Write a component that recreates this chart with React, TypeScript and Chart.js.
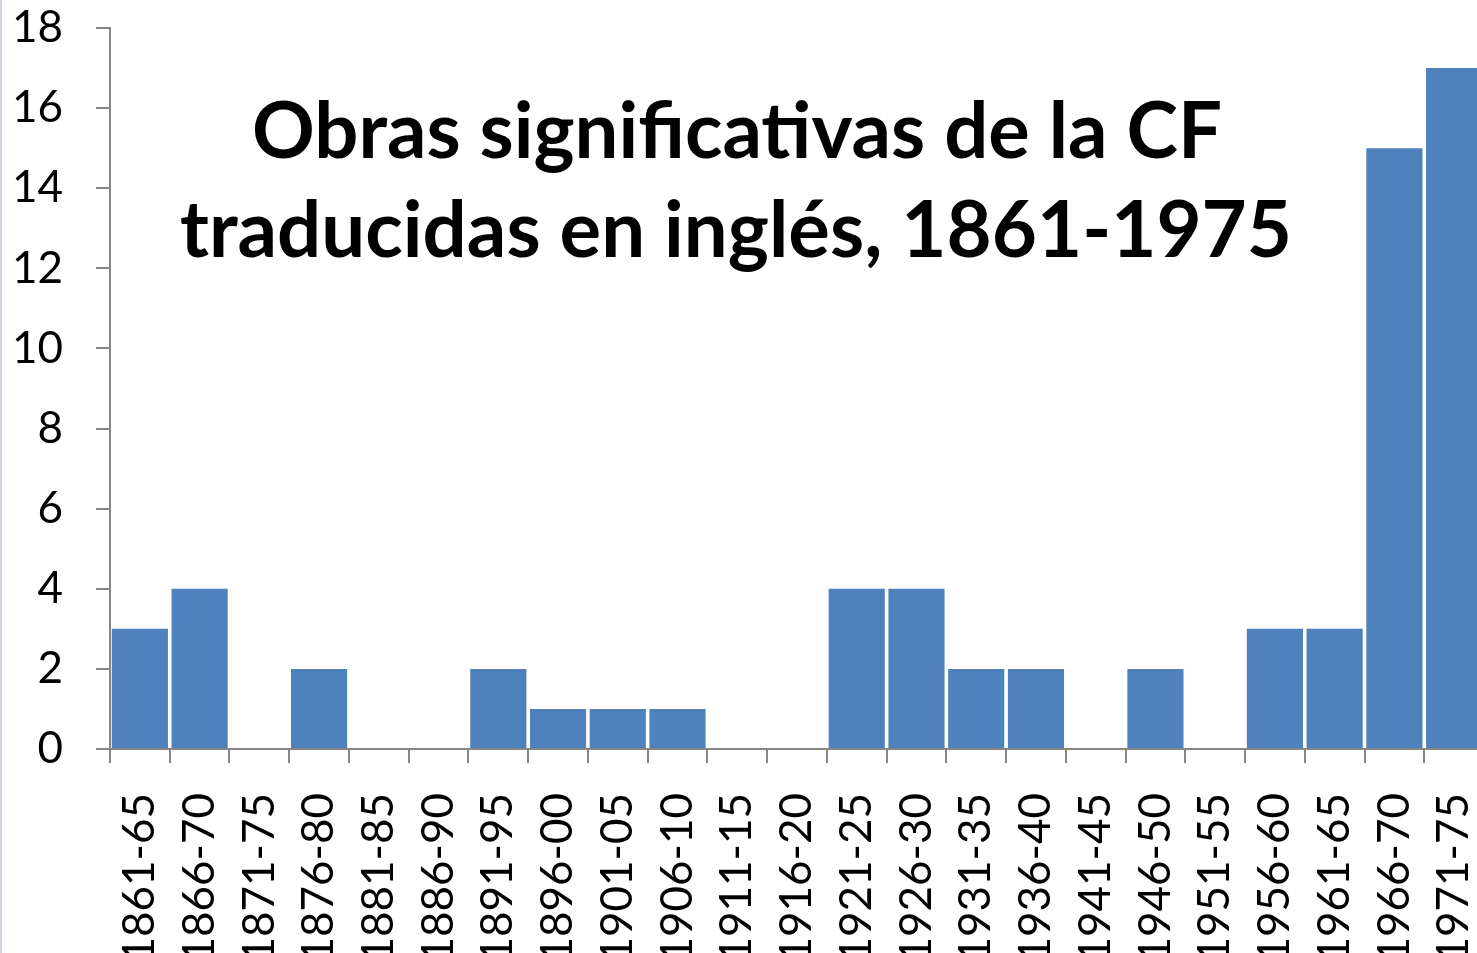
import React, { useEffect, useRef } from "react";
import { Chart, registerables } from "chart.js";

Chart.register(...registerables);

const categories = [
  "1861-65", "1866-70", "1871-75", "1876-80", "1881-85", "1886-90",
  "1891-95", "1896-00", "1901-05", "1906-10", "1911-15", "1916-20",
  "1921-25", "1926-30", "1931-35", "1936-40", "1941-45", "1946-50",
  "1951-55", "1956-60", "1961-65", "1966-70", "1971-75",
];
const obras = [3, 4, 0, 2, 0, 0, 2, 1, 1, 1, 0, 0, 4, 4, 2, 2, 0, 2, 0, 3, 3, 15, 17];
const titleLines = ["Obras significativas de la CF", "traducidas en inglés, 1861-1975"];
const yMin = 0;
const yMax = 18;
const yStep = 2;

const FONT = "Lato, 'Open Sans', sans-serif";
const AXIS = "#868686";

const titlePlugin = {
  id: "insideTitle",
  afterDraw(chart: any) {
    const ctx = chart.ctx;
    ctx.save();
    ctx.fillStyle = "#000";
    ctx.textAlign = "center";
    ctx.textBaseline = "alphabetic";
    ctx.font = `bold 78px ${FONT}`;
    ctx.fillText(titleLines[0], 737, 158, 970);
    ctx.fillText(titleLines[1], 736, 257, 1112);
    ctx.restore();
  },
};

export default function App() {
  const ref = useRef<HTMLCanvasElement>(null);
  useEffect(() => {
    if (!ref.current) return;
    const chart = new Chart(ref.current, {
      type: "bar",
      data: {
        labels: categories,
        datasets: [
          {
            data: obras,
            backgroundColor: "#4F81BD",
            borderWidth: 0,
            barPercentage: 0.94,
            categoryPercentage: 1,
          },
        ],
      },
      options: {
        responsive: false,
        animation: false,
        layout: { padding: { top: 28, left: 0, right: 0, bottom: 0 } },
        plugins: {
          legend: { display: false },
          tooltip: { enabled: false },
          title: { display: false },
        },
        scales: {
          x: {
            offset: true,
            grid: {
              offset: true,
              drawOnChartArea: false,
              drawTicks: true,
              tickLength: 14,
              color: AXIS,
              lineWidth: 2,
            },
            border: { color: AXIS, width: 2 },
            ticks: {
              autoSkip: false,
              minRotation: 90,
              maxRotation: 90,
              padding: 30,
              color: "#000",
              font: { family: FONT, size: 44 },
            },
            afterFit(scale: any) {
              scale.height = 953 - 749;
              scale.paddingLeft = 0;
              scale.paddingRight = 0;
              scale.paddingTop = 0;
              scale.paddingBottom = 0;
            },
          },
          y: {
            min: yMin,
            max: yMax,
            grid: {
              drawOnChartArea: false,
              drawTicks: true,
              tickLength: 14,
              color: AXIS,
              lineWidth: 2,
            },
            border: { color: AXIS, width: 2 },
            ticks: {
              stepSize: yStep,
              padding: 33,
              color: "#000",
              font: { family: FONT, size: 44 },
            },
            afterFit(scale: any) {
              scale.width = 110;
              scale.paddingLeft = 0;
              scale.paddingRight = 0;
              scale.paddingTop = 0;
              scale.paddingBottom = 0;
            },
          },
        },
      },
      plugins: [titlePlugin],
    });
    return () => chart.destroy();
  }, []);
  return (
    <div
      style={{
        position: "absolute",
        left: 0,
        top: 0,
        width: 1477,
        height: 953,
        overflow: "hidden",
        background: "#fff",
      }}
    >
      <canvas ref={ref} width={1484} height={953} style={{ display: "block" }} />
      <div
        style={{
          position: "absolute",
          left: 0,
          top: 0,
          width: 2,
          height: 953,
          background: "#D4D4E8",
        }}
      />
    </div>
  );
}
